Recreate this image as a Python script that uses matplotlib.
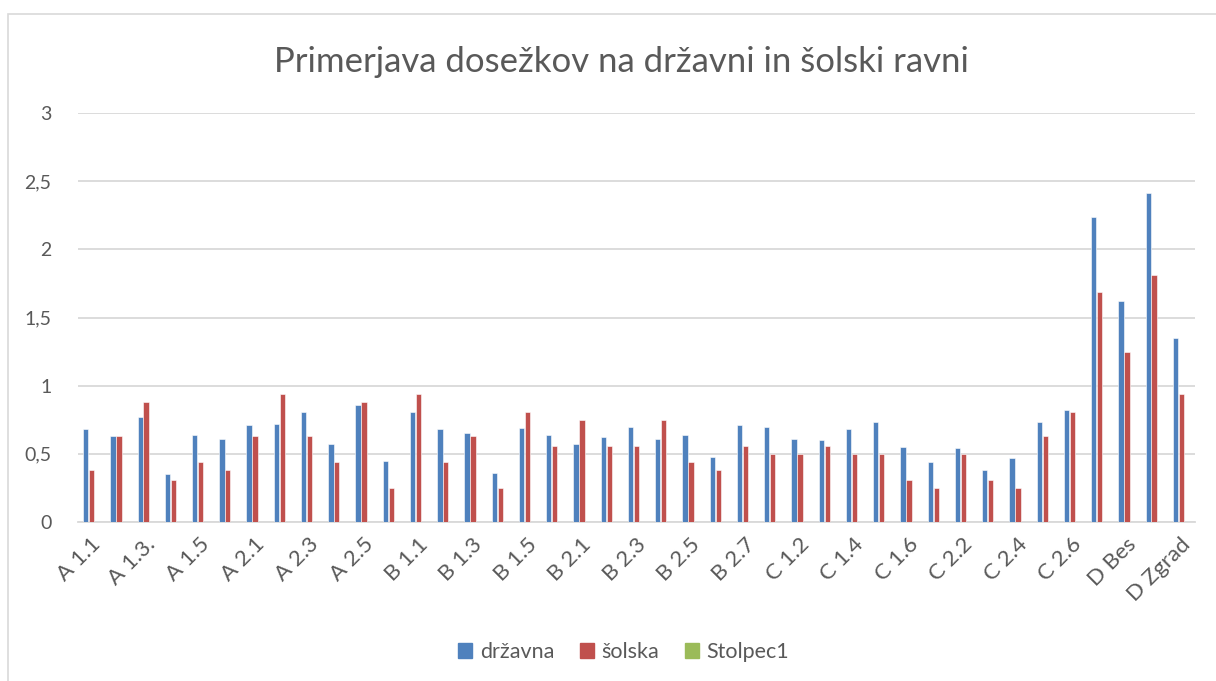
import numpy as np
import matplotlib
matplotlib.use('Agg')
import matplotlib.pyplot as plt
import matplotlib.patches as mpatches
import matplotlib.transforms as mtransforms

plt.rcParams['font.family'] = ['Lato', 'DejaVu Sans']

# --- podatki ---
categories = ['A 1.1', 'A 1.2', 'A 1.3.', 'A 1.4', 'A 1.5', 'A 1.6', 'A 2.1', 'A 2.2',
              'A 2.3', 'A 2.4', 'A 2.5', 'A 2.6', 'B 1.1', 'B 1.2', 'B 1.3', 'B 1.4',
              'B 1.5', 'B 1.6', 'B 2.1', 'B 2.2', 'B 2.3', 'B 2.4', 'B 2.5', 'B 2.6',
              'B 2.7', 'C 1.1', 'C 1.2', 'C 1.3', 'C 1.4', 'C 1.5', 'C 1.6', 'C 2.1',
              'C 2.2', 'C 2.3', 'C 2.4', 'C 2.5', 'C 2.6', 'C 2.7', 'D Bes', 'D Jez',
              'D Zgrad']
drzavna = [0.68, 0.63, 0.77, 0.35, 0.64, 0.61, 0.71, 0.72, 0.81, 0.57, 0.86, 0.45,
           0.81, 0.68, 0.65, 0.36, 0.69, 0.64, 0.57, 0.62, 0.70, 0.61, 0.64, 0.48,
           0.71, 0.70, 0.61, 0.60, 0.68, 0.73, 0.55, 0.44, 0.54, 0.38, 0.47, 0.73,
           0.82, 2.24, 1.62, 2.41, 1.35]
solska = [0.38, 0.63, 0.88, 0.31, 0.44, 0.38, 0.63, 0.94, 0.63, 0.44, 0.88, 0.25,
          0.94, 0.44, 0.63, 0.25, 0.81, 0.56, 0.75, 0.56, 0.56, 0.75, 0.44, 0.38,
          0.56, 0.50, 0.50, 0.56, 0.50, 0.50, 0.31, 0.25, 0.50, 0.31, 0.25, 0.63,
          0.81, 1.69, 1.25, 1.81, 0.94]
stolpec1 = [0.0] * len(categories)   # prazen stolpec
series_names = ['državna', 'šolska', 'Stolpec1']
yticks = [0, 0.5, 1, 1.5, 2, 2.5, 3]

COLORS = ['#4F81BD', '#C0504D', '#9BBB59']
GRID = '#D9D9D9'
TXT = '#595959'

fig = plt.figure(figsize=(12.16, 6.81), dpi=100)
fig.patch.set_facecolor('white')
ax = fig.add_axes([78 / 1216, 1 - 522 / 681, 1117 / 1216, 409 / 681])

# okvir grafikona (viden le levi in zgornji rob)
frame = mpatches.Rectangle((8 / 1216, -0.2), 1.2, 1.2 - 14 / 681, transform=fig.transFigure,
                           fill=False, edgecolor=GRID, linewidth=1.2, clip_on=False)
fig.patches.append(frame)

x = np.arange(len(categories))
w = 0.195
for i, vals in enumerate([drzavna, solska, stolpec1]):
    ax.bar(x + (i - 1) * 0.218, vals, width=w, color=COLORS[i],
           edgecolor='white', linewidth=0.4, zorder=3)

ax.set_xlim(-0.5, len(categories) - 0.5)
ax.set_ylim(0, 3)
ax.set_yticks(yticks)
ax.set_yticklabels([f"{t:g}".replace('.', ',') for t in yticks])
ax.yaxis.grid(True, color=GRID, linewidth=1.3, zorder=0)
ax.set_axisbelow(True)
for s in ['top', 'right', 'left']:
    ax.spines[s].set_visible(False)
ax.spines['bottom'].set_color(GRID)
ax.spines['bottom'].set_linewidth(1.3)
ax.tick_params(axis='y', length=0, pad=19, labelsize=14, labelcolor=TXT)
ax.tick_params(axis='x', length=0, pad=3, labelsize=16, labelcolor=TXT)

ax.set_xticks(x[::2])
ax.set_xticklabels(categories[::2], rotation=45, ha='right', rotation_mode='anchor')
offset = mtransforms.ScaledTranslation(-1 / 100, -8 / 100, fig.dpi_scale_trans)
for lbl in ax.get_xticklabels():
    lbl.set_transform(lbl.get_transform() + offset)

fig.text(0.511, 1 - 62 / 681, 'Primerjava dosežkov na državni in šolski ravni',
         ha='center', va='center', fontsize=25, color=TXT)

handles = [mpatches.Patch(color=c, label=n) for c, n in zip(COLORS, series_names)]
fig.legend(handles=handles, loc='center', bbox_to_anchor=(0.513, 1 - 652 / 681), ncol=3,
           frameon=False, fontsize=15.5, labelcolor=TXT, handlelength=0.65,
           handleheight=0.65, handletextpad=0.35, columnspacing=1.2)

fig.savefig('out.png', dpi=100, facecolor='white')
